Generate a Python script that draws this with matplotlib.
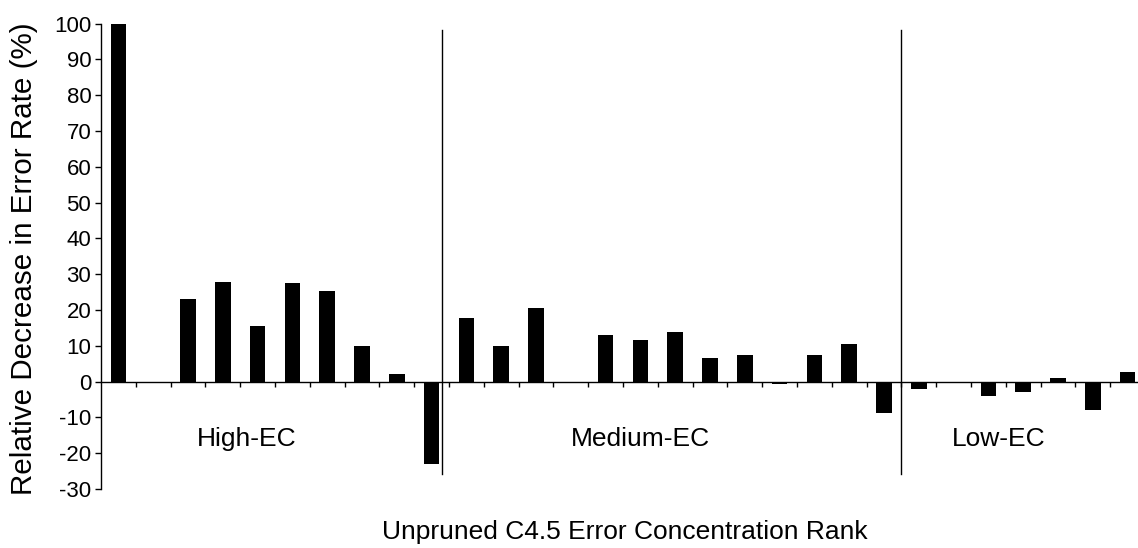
import matplotlib
matplotlib.use("Agg")
import matplotlib.pyplot as plt
import numpy as np

plt.rcParams['font.family'] = ['Liberation Sans', 'DejaVu Sans']
plt.rcParams['axes.unicode_minus'] = False

# relative decrease in error rate (%) per dataset, ordered by EC rank
high_ec = [100, 0, 23.1, 27.8, 15.6, 27.4, 25.2, 10.0, 2.1, -22.9]
medium_ec = [17.8, 10.0, 20.6, 0, 12.9, 11.6, 13.8, 6.6, 7.3, -0.6, 7.3, 10.6, -8.9]
low_ec = [-2.0, 0, -4.1, -2.9, 0.9, -7.9, 2.8]

group_names = ['High-EC', 'Medium-EC', 'Low-EC']
group_label_x = [3.7, 15.0, 25.3]
divider_x = [9.3, 22.48]

values = np.array(high_ec + medium_ec + low_ec)
pos = np.arange(len(values))

fig = plt.figure(figsize=(11.38, 5.48), dpi=100)
ax = fig.add_axes([101 / 1138, 1 - 489 / 548, 1 - 101 / 1138, (489 - 23.5) / 548])

ax.bar(pos, values, width=0.45, color='black', linewidth=0, zorder=2)

# group separators
for x in divider_x:
    ax.plot([x, x], [98.2, -25.7], color='black', linewidth=1.0, zorder=3)

for name, x in zip(group_names, group_label_x):
    ax.text(x, -18.1, name, ha='center', va='baseline', fontsize=19)

ax.set_xlim(-0.5, 29.3)
ax.set_ylim(-30, 100)
ax.set_yticks(np.arange(-30, 101, 10))
ax.set_xticks(pos[:-1] + 0.5)
ax.set_xticklabels([])

ax.spines['top'].set_visible(False)
ax.spines['right'].set_visible(False)
ax.spines['bottom'].set_position(('data', 0))
ax.spines['bottom'].set_zorder(1)
ax.spines['left'].set_linewidth(1.0)
ax.spines['bottom'].set_linewidth(1.0)

ax.tick_params(axis='y', direction='out', length=4, width=1.0, labelsize=16, pad=3)
ax.tick_params(axis='x', direction='out', length=3.5, width=1.0)

ax.set_ylabel('Relative Decrease in Error Rate (%)', fontsize=21.3)
ax.yaxis.set_label_coords(-0.061, 0.494)

fig.text(625 / 1138, 1 - 532 / 548, 'Unpruned C4.5 Error Concentration Rank',
         ha='center', va='center', fontsize=19)

fig.savefig('out.png', dpi=100)
